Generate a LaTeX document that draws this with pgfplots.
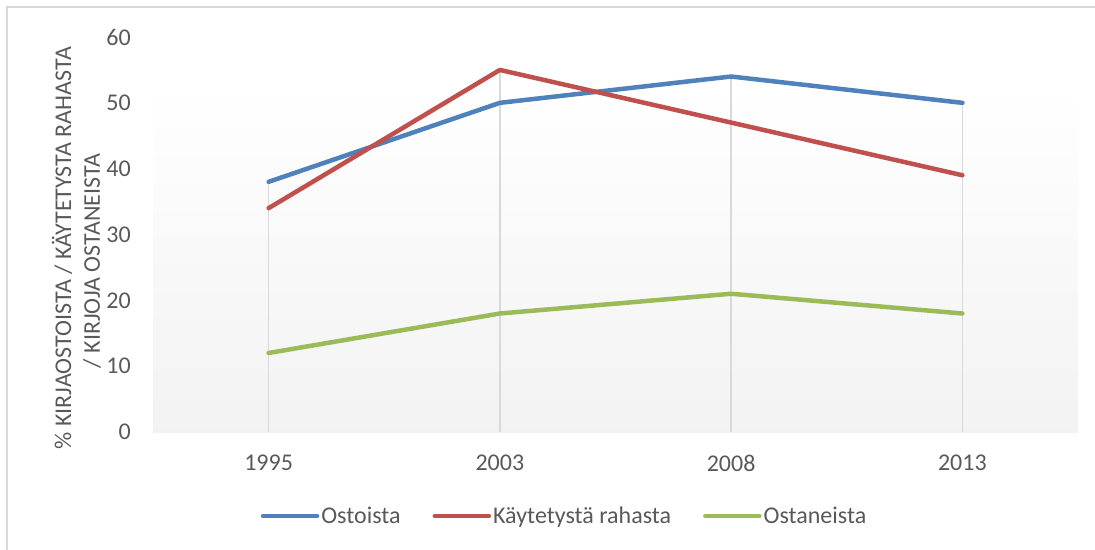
\documentclass[border=0pt]{standalone}
\usepackage{fontspec}
\setmainfont{Carlito}
\usepackage{pgfplots}
\pgfplotsset{compat=1.18}
\definecolor{cblue}{HTML}{4F81BD}
\definecolor{cred}{HTML}{C0504D}
\definecolor{cgreen}{HTML}{9BBB59}
\definecolor{txt}{HTML}{595959}
\definecolor{grid}{HTML}{D9D9D9}
\definecolor{frame}{HTML}{D9D9D9}
\begin{document}
\begin{tikzpicture}[x=1pt,y=1pt]
\path[use as bounding box] (0,0) rectangle (1095,-549);
\begin{scope}
\clip (0,0) rectangle (1095,-549);
\draw[frame, line width=2pt] (7,-7) rectangle (1110,-560);
\end{scope}
\node[rotate=90, text=txt, font=\fontsize{24}{28}\selectfont, inner sep=0pt] at (62,-248) {\% KIRJAOSTOISTA / KÄYTETYSTA RAHASTA};
\node[rotate=90, text=txt, font=\fontsize{24}{28}\selectfont, inner sep=0pt] at (92,-261) {/ KIRJOJA OSTANEISTA};
\begin{axis}[
  at={(153pt,-432pt)}, anchor=south west,
  width=925pt, height=395pt, scale only axis,
  xmin=-0.5, xmax=3.5, ymin=0, ymax=60,
  xtick={0,1,2,3}, xticklabels={1995,2003,2008,2013},
  ytick={0,10,20,30,40,50,60},
  major tick length=0pt,
  axis x line*=bottom, axis y line*=left,
  y axis line style={draw=none},
  x axis line style={draw=grid, line width=2pt},
  /pgf/number format/assume math mode=true,
  tick label style={font=\fontsize{24}{28}\selectfont, text=txt},
  yticklabel style={anchor=east, inner sep=0pt, xshift=-22pt},
  xticklabel style={anchor=north, inner sep=0pt, yshift=-23pt},
  clip=false,
  legend style={at={(0.4449,-0.2127)}, anchor=center, draw=none, fill=none,
    font=\fontsize{24}{28}\selectfont, text=txt, legend columns=3,
    /tikz/every even column/.append style={column sep=30pt},
    nodes={inner sep=2pt}},
  legend image code/.code={\draw[#1, line cap=round] (0pt,0pt) -- (54pt,0pt);},
]
\fill[top color=white, bottom color=black!5] (axis cs:-0.5,0) rectangle (axis cs:3.5,52.3);
\addplot[ycomb, draw=grid, line width=1.5pt, forget plot] coordinates {(0,38) (1,55) (2,54) (3,50)};
\addplot[cblue, line width=4.5pt, line join=round, line cap=round] coordinates {(0,38) (1,50) (2,54) (3,50)};
\addlegendentry{Ostoista}
\addplot[cred, line width=4.5pt, line join=round, line cap=round] coordinates {(0,34) (1,55) (2,47) (3,39)};
\addlegendentry{Käytetystä rahasta}
\addplot[cgreen, line width=4.5pt, line join=round, line cap=round] coordinates {(0,12) (1,18) (2,21) (3,18)};
\addlegendentry{Ostaneista}
\end{axis}
\end{tikzpicture}
\end{document}
